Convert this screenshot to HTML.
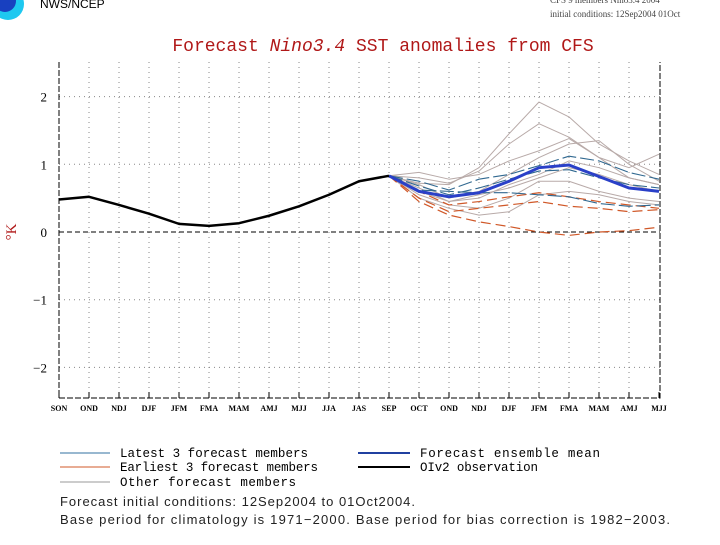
<!DOCTYPE html>
<html><head><meta charset="utf-8"><style>
body{margin:0;background:#fff;width:720px;height:540px;overflow:hidden}
svg text{font-family:"Liberation Serif",serif}
</style></head><body>
<svg width="720" height="540" id="c">
<circle cx="8" cy="4" r="16" fill="#1ec8f0"/>
<circle cx="5" cy="1" r="11" fill="#1840c0"/>
<text x="40" y="8" font-size="12" style="font-family:'Liberation Sans',sans-serif">NWS/NCEP</text>
<text x="550" y="3" font-size="9" fill="#444">CFS  9 members  Nino3.4  2004</text>
<text x="550" y="17" font-size="9" fill="#444">initial conditions: 12Sep2004  01Oct</text>
<text x="383" y="51" text-anchor="middle" font-size="18" fill="#b01818" style="font-family:'Liberation Mono',monospace">Forecast <tspan font-style="italic">Nino3.4</tspan> SST anomalies from CFS</text>
<text transform="translate(16,232) rotate(-90)" text-anchor="middle" font-size="15" fill="#b01818">°K</text>
<g id="grid"></g><g id="marks"></g><g id="axes"></g>
<g font-size="12.5" style="font-family:'Liberation Mono',monospace">
<line x1="60" y1="453" x2="110" y2="453" stroke="#3070a0" stroke-width="1"/><text x="120" y="457" textLength="188" style="font-family:'Liberation Mono',monospace">Latest 3 forecast members</text>
<line x1="60" y1="467" x2="110" y2="467" stroke="#d05828" stroke-width="1"/><text x="120" y="471" textLength="198" style="font-family:'Liberation Mono',monospace">Earliest 3 forecast members</text>
<line x1="60" y1="482" x2="110" y2="482" stroke="#999" stroke-width="1"/><text x="120" y="486" textLength="176" style="font-family:'Liberation Mono',monospace">Other forecast members</text>
<line x1="358" y1="453" x2="410" y2="453" stroke="#2040a0" stroke-width="2"/><text x="420" y="457" textLength="180" style="font-family:'Liberation Mono',monospace">Forecast ensemble mean</text>
<line x1="358" y1="467" x2="410" y2="467" stroke="#000" stroke-width="2"/><text x="420" y="471" textLength="118" style="font-family:'Liberation Mono',monospace">OIv2 observation</text>
</g>
<text x="60" y="506" font-size="13" textLength="355" fill="#222" style="font-family:'Liberation Sans',sans-serif">Forecast initial conditions: 12Sep2004 to 01Oct2004.</text>
<text x="60" y="524" font-size="13" textLength="610" fill="#222" style="font-family:'Liberation Sans',sans-serif">Base period for climatology is 1971−2000. Base period for bias correction is 1982−2003.</text>
</svg>
<script>
const categories=["SON","OND","NDJ","DJF","JFM","FMA","MAM","AMJ","MJJ","JJA","JAS","SEP","OCT","OND","NDJ","DJF","JFM","FMA","MAM","AMJ","MJJ"];
const yTicks=[2,1,0,-1,-2];
const yTickLabels=["2","1","0","−1","−2"];
const observation=[0.48,0.52,0.40,0.27,0.12,0.09,0.13,0.24,0.38,0.55,0.75,0.83];
const ensembleMean=[0.83,0.60,0.52,0.58,0.75,0.95,0.99,0.82,0.65,0.60];
const latest1=[0.83,0.75,0.62,0.78,0.85,0.98,1.12,1.05,0.88,0.78];
const latest2=[0.83,0.68,0.55,0.65,0.78,0.90,0.92,0.80,0.70,0.65];
const latest3=[0.83,0.62,0.60,0.58,0.58,0.55,0.52,0.42,0.38,0.40];
const earliest1=[0.83,0.60,0.40,0.45,0.52,0.58,0.52,0.45,0.40,0.35];
const earliest2=[0.83,0.50,0.30,0.35,0.40,0.45,0.38,0.35,0.30,0.33];
const earliest3=[0.83,0.45,0.25,0.15,0.08,0.0,-0.05,0.0,0.02,0.07];
const other1=[0.83,0.72,0.70,0.95,1.45,1.92,1.70,1.30,1.05,0.85];
const other2=[0.83,0.80,0.72,0.90,1.30,1.60,1.40,1.10,0.95,1.15];
const other3=[0.83,0.88,0.78,0.85,1.05,1.20,1.38,1.10,0.80,0.70];
const other4=[0.83,0.70,0.50,0.60,0.85,1.10,1.30,1.35,1.00,0.75];
const other5=[0.83,0.65,0.45,0.50,0.70,0.85,1.05,0.95,0.80,0.70];
const other6=[0.83,0.55,0.40,0.35,0.50,0.75,0.75,0.60,0.50,0.45];
const other7=[0.83,0.50,0.35,0.25,0.30,0.55,0.60,0.55,0.45,0.40];
const other8=[0.83,0.60,0.45,0.55,0.65,0.80,0.95,0.85,0.70,0.60];
const NS="http://www.w3.org/2000/svg";
const X0=59,DX=30,Y0=232,DY=67.7,LEFT=59,RIGHT=660,TOP=62,BOT=398;
const xs=i=>X0+DX*i, ys=v=>Y0-DY*v;
function mk(t,a,p){const e=document.createElementNS(NS,t);for(const k in a)e.setAttribute(k,a[k]);p.appendChild(e);return e;}
const grid=document.getElementById('grid'),marks=document.getElementById('marks'),axes=document.getElementById('axes');
categories.forEach((c,i)=>{
 if(i>0&&i<categories.length-1){const g=mk('line',{x1:xs(i),x2:xs(i),y1:TOP,y2:BOT,stroke:'#888','stroke-dasharray':'1,4'},grid);
 
 }
 const tk=mk('line',{x1:xs(i),x2:xs(i),y1:BOT-6,y2:BOT,stroke:'#000'},axes);
 
 
 const t=mk('text',{x:xs(i),y:BOT+13,'text-anchor':'middle','font-size':'8','font-weight':'bold'},axes);t.textContent=c;
 
 
});
yTicks.forEach((v,i)=>{
 const g=mk('line',{x1:LEFT,x2:RIGHT,y1:ys(v),y2:ys(v),stroke:v===0?'#000':'#888','stroke-dasharray':v===0?'5,3':'1,4'},grid);
 
 
 const t=mk('text',{x:LEFT-12,y:ys(v)+5,'text-anchor':'end','font-size':'13'},axes);t.textContent=yTickLabels[i];
 
 
});
const frame=mk('path',{d:`M${LEFT},${TOP}V${BOT}H${RIGHT}V${TOP}`,fill:'none',stroke:'#000','stroke-dasharray':'6,2'},axes);


function line(arr,start,color,w,name,dash){
 const pts=arr.map((v,i)=>xs(start+i)+','+ys(v)).join(' ');
 const a={points:pts,fill:'none',stroke:color,'stroke-width':w,'stroke-linejoin':'round'};if(dash)a['stroke-dasharray']=dash;
 const e=mk('polyline',a,marks);
 
 
}
[other1,other2,other3,other4,other5,other6,other7,other8].forEach(a=>line(a,11,'#b8aaa8',1,'other-member'));
[earliest1,earliest2,earliest3].forEach(a=>line(a,11,'#d05828',1.2,'earliest-member','10,5'));
[latest1,latest2,latest3].forEach(a=>line(a,11,'#306890',1.1,'latest-member','14,4'));
line(ensembleMean,11,'#2a40c8',3,'ensemble-mean');
line(observation,0,'#000',2.5,'observation');
</script>
</body></html>
